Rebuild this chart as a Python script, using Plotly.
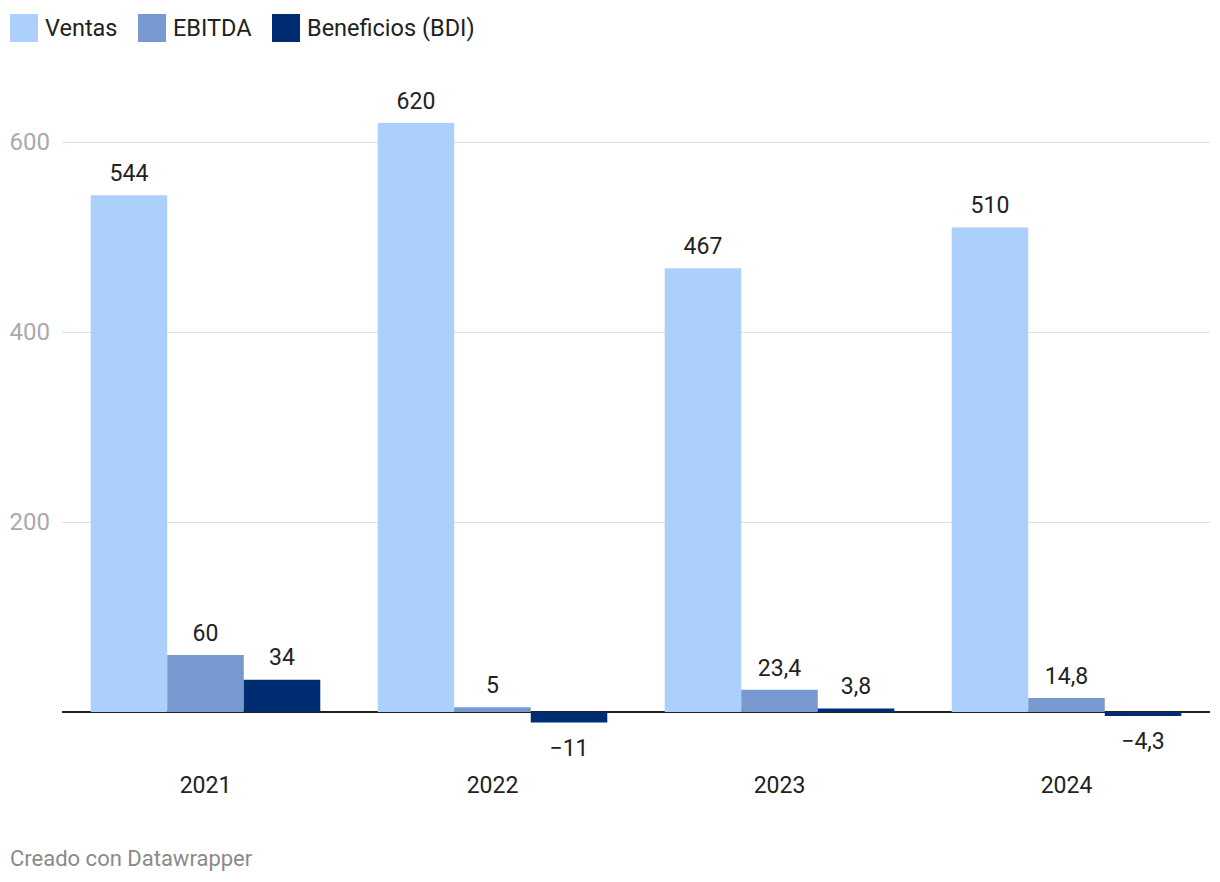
import plotly.graph_objects as go

years = ["2021", "2022", "2023", "2024"]
ventas = [544, 620, 467, 510]
ebitda = [60, 5, 23.4, 14.8]
bdi = [34, -11, 3.8, -4.3]
series_names = ["Ventas", "EBITDA", "Beneficios (BDI)"]
colors = ["#aad0fb", "#7799cf", "#002d72"]
y_ticks = [200, 400, 600]

OFF = 8  # page body margin
W, H = 1212, 874
ML, MR, MT, MB = 54, 10, 77, 151
PW, PH = W - ML - MR, H - MT - MB


def px_x(x):
    return (x - OFF - ML) / PW


def px_y(y):
    return (H - MB - (y - OFF)) / PH


def fmt(v):
    s = f"{abs(v):g}".replace(".", ",")
    return ("\u2212" + s) if v < 0 else s


fig = go.Figure()
for name, vals, col in zip(series_names, [ventas, ebitda, bdi], colors):
    fig.add_trace(go.Bar(
        x=years, y=vals, name=name, marker=dict(color=col, line=dict(width=0)),
        showlegend=False, hoverinfo="skip",
    ))
for name, vals in zip(series_names, [ventas, ebitda, bdi]):
    fig.add_trace(go.Scatter(
        x=years, y=vals, name=name, mode="markers+text",
        marker=dict(size=[12 if v >= 0 else 24 for v in vals], color="rgba(0,0,0,0)",
                    opacity=0, line=dict(width=0, color="rgba(0,0,0,0)")),
        text=[fmt(v) for v in vals],
        textposition=["top center" if v >= 0 else "bottom center" for v in vals],
        textfont=dict(size=23, color="#222222", family="Roboto"),
        cliponaxis=False, showlegend=False,
    ))

# custom legend (large square swatches)
shapes = []
annotations = []
legend_left = [10, 138, 272]
for name, col, lx in zip(series_names, colors, legend_left):
    shapes.append(dict(type="rect", xref="paper", yref="paper",
                       x0=px_x(lx), x1=px_x(lx + 28), y0=px_y(42), y1=px_y(14),
                       fillcolor=col, line=dict(width=0)))
    annotations.append(dict(text=name, xref="paper", yref="paper", x=px_x(lx + 33),
                            xanchor="left", y=px_y(28), yanchor="middle", showarrow=False,
                            font=dict(size=23.5, color="#222222")))

annotations.append(dict(text="Creado con Datawrapper", xref="paper", yref="paper",
                        x=px_x(8), xanchor="left", y=px_y(858), yanchor="middle",
                        showarrow=False, font=dict(size=22, color="#8a8a8a")))

fig.update_layout(
    width=W, height=H,
    paper_bgcolor="white", plot_bgcolor="white",
    font=dict(family="Roboto", size=20, color="#222222"),
    barmode="group", bargap=0.2, bargroupgap=0,
    scattermode="group", scattergap=0.2,
    margin=dict(l=ML, r=MR, t=MT, b=MB, autoexpand=False),
    showlegend=False,
    xaxis=dict(showgrid=False, showline=False, ticks="", tickfont=dict(size=23, color="#222222"),
               ticklabelstandoff=38),
    yaxis=dict(range=[-20, 660], tickvals=y_ticks, showgrid=True, gridcolor="#e0e0e0",
               gridwidth=1, zeroline=True, zerolinecolor="#222222", zerolinewidth=2,
               tickfont=dict(size=24, color="#aaaaaa"), ticks="", showline=False,
               ticklabelstandoff=11),
    shapes=shapes,
    annotations=annotations,
)

fig.write_html("out.html")
